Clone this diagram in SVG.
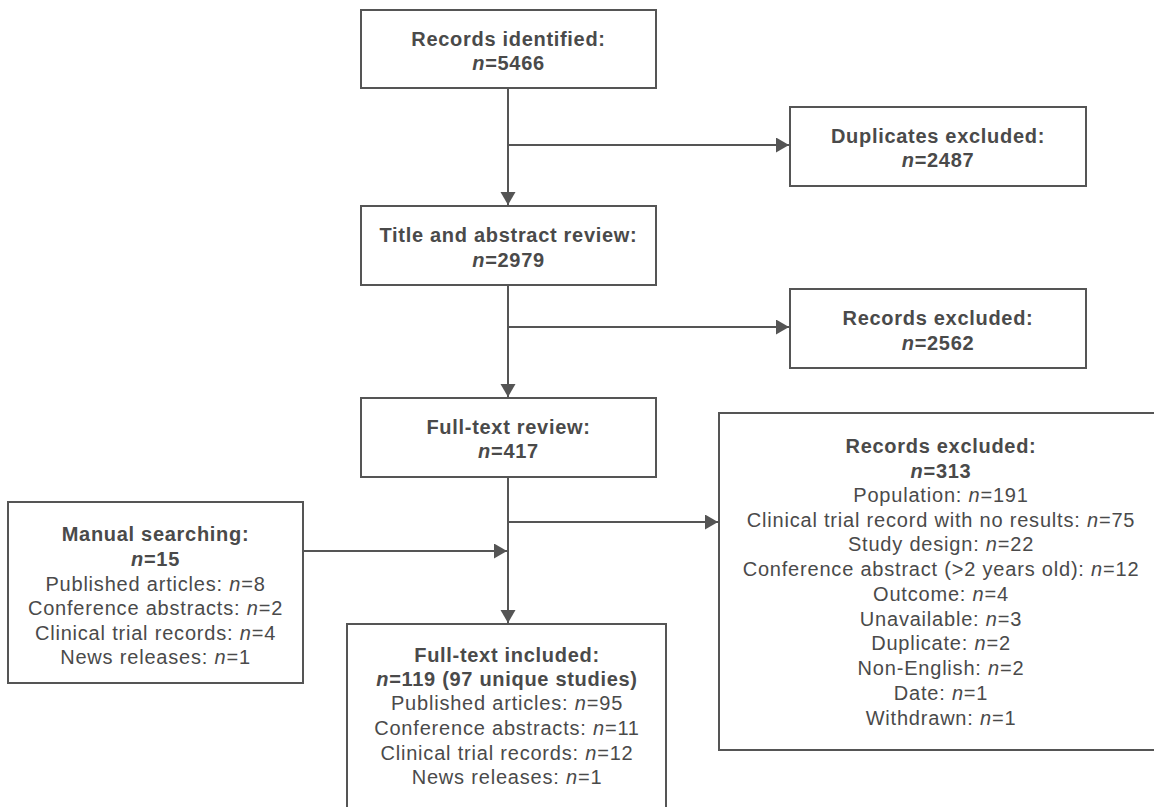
<svg xmlns="http://www.w3.org/2000/svg" width="1154" height="807" viewBox="0 0 1154 807">
<defs>
<style>
.box{fill:#fff;stroke:#555;stroke-width:2}
.t{font-family:"Liberation Sans",Arial,sans-serif;font-size:20px;letter-spacing:0.8px;fill:#4a4a4a;text-anchor:middle}
.b{font-weight:bold;letter-spacing:0.7px}
.i{font-style:italic}
.c{stroke:#555;stroke-width:2;fill:none}
.a{marker-end:url(#arr)}
</style>
<marker id="arr" markerUnits="userSpaceOnUse" markerWidth="14" markerHeight="16" refX="13" refY="7.5" orient="auto">
<path d="M0,0 L13,7.5 L0,15 z" fill="#555"/>
</marker>
</defs>
<rect width="1154" height="807" fill="#fff"/>
<g id="connectors">
<line class="c a" x1="508" y1="88" x2="508" y2="205"/>
<line class="c a" x1="508" y1="145" x2="789" y2="145"/>
<line class="c a" x1="508" y1="285" x2="508" y2="397"/>
<line class="c a" x1="508" y1="327" x2="789" y2="327"/>
<line class="c a" x1="508" y1="477" x2="508" y2="623"/>
<line class="c a" x1="508" y1="522" x2="718" y2="522"/>
<line class="c a" x1="303" y1="551" x2="507" y2="551"/>
</g>
<g id="identified">
<rect class="box" x="361" y="10" width="295" height="78"/>
<text class="t b" x="508.5" y="46">Records identified:</text>
<text class="t b" x="508.5" y="70"><tspan class="i">n</tspan>=5466</text>
</g>
<g id="duplicates">
<rect class="box" x="790" y="107" width="296" height="79"/>
<text class="t b" x="938" y="143">Duplicates excluded:</text>
<text class="t b" x="938" y="167"><tspan class="i">n</tspan>=2487</text>
</g>
<g id="title-abstract">
<rect class="box" x="361" y="206" width="295" height="79"/>
<text class="t b" x="508.5" y="242">Title and abstract review:</text>
<text class="t b" x="508.5" y="267"><tspan class="i">n</tspan>=2979</text>
</g>
<g id="excluded-2562">
<rect class="box" x="790" y="289" width="296" height="79"/>
<text class="t b" x="938" y="325">Records excluded:</text>
<text class="t b" x="938" y="350"><tspan class="i">n</tspan>=2562</text>
</g>
<g id="fulltext-review">
<rect class="box" x="361" y="398" width="295" height="79"/>
<text class="t b" x="508.5" y="434">Full-text review:</text>
<text class="t b" x="508.5" y="458"><tspan class="i">n</tspan>=417</text>
</g>
<g id="excluded-313">
<rect class="box" x="719" y="413" width="445" height="337"/>
<text class="t b" x="941" y="453">Records excluded:</text>
<text class="t b" x="941" y="478"><tspan class="i">n</tspan>=313</text>
<text class="t" x="941" y="502">Population: <tspan class="i">n</tspan>=191</text>
<text class="t" x="941" y="527">Clinical trial record with no results: <tspan class="i">n</tspan>=75</text>
<text class="t" x="941" y="551">Study design: <tspan class="i">n</tspan>=22</text>
<text class="t" x="941" y="576">Conference abstract (&gt;2 years old): <tspan class="i">n</tspan>=12</text>
<text class="t" x="941" y="601">Outcome: <tspan class="i">n</tspan>=4</text>
<text class="t" x="941" y="626">Unavailable: <tspan class="i">n</tspan>=3</text>
<text class="t" x="941" y="650">Duplicate: <tspan class="i">n</tspan>=2</text>
<text class="t" x="941" y="675">Non-English: <tspan class="i">n</tspan>=2</text>
<text class="t" x="941" y="700">Date: <tspan class="i">n</tspan>=1</text>
<text class="t" x="941" y="725">Withdrawn: <tspan class="i">n</tspan>=1</text>
</g>
<g id="manual">
<rect class="box" x="8" y="502" width="295" height="181"/>
<text class="t b" x="155.5" y="541">Manual searching:</text>
<text class="t b" x="155.5" y="566"><tspan class="i">n</tspan>=15</text>
<text class="t" x="155.5" y="591">Published articles: <tspan class="i">n</tspan>=8</text>
<text class="t" x="155.5" y="615">Conference abstracts: <tspan class="i">n</tspan>=2</text>
<text class="t" x="155.5" y="640">Clinical trial records: <tspan class="i">n</tspan>=4</text>
<text class="t" x="155.5" y="664">News releases: <tspan class="i">n</tspan>=1</text>
</g>
<g id="included">
<rect class="box" x="347" y="624" width="319" height="200"/>
<text class="t b" x="507" y="662">Full-text included:</text>
<text class="t b" x="507" y="686"><tspan class="i">n</tspan>=119 (97 unique studies)</text>
<text class="t" x="507" y="710">Published articles: <tspan class="i">n</tspan>=95</text>
<text class="t" x="507" y="735">Conference abstracts: <tspan class="i">n</tspan>=11</text>
<text class="t" x="507" y="760">Clinical trial records: <tspan class="i">n</tspan>=12</text>
<text class="t" x="507" y="784">News releases: <tspan class="i">n</tspan>=1</text>
</g>
</svg>
